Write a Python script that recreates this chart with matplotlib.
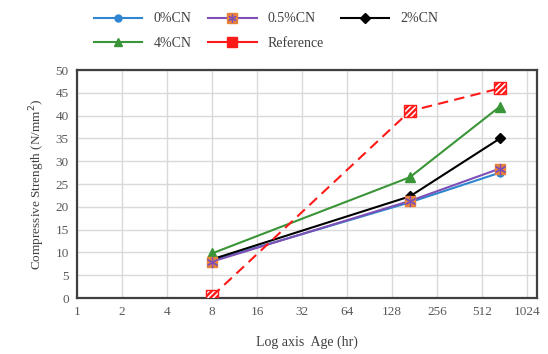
import matplotlib
matplotlib.use("Agg")
import matplotlib.pyplot as plt
from matplotlib.lines import Line2D
from matplotlib.legend_handler import HandlerTuple

plt.rcParams['font.family'] = ['Liberation Serif', 'DejaVu Serif']
plt.rcParams['hatch.linewidth'] = 1.1

# age in hours (8 h, 7 days, 28 days)
ages = [8, 168, 672]
cn_0 = [8.2, 21.0, 27.5]
cn_05 = [8.0, 21.3, 28.4]
cn_2 = [8.5, 22.3, 35.0]
cn_4 = [9.8, 26.5, 42.0]
reference = [0.4, 41.0, 46.0]

xticks = [1, 2, 4, 8, 16, 32, 64, 128, 256, 512, 1024]
yticks = list(range(0, 55, 5))

fig = plt.figure(figsize=(5.48, 3.54), dpi=100)
ax = fig.add_axes([0.1405, 0.158, 0.8395, 0.644])

ax.set_xscale('log', base=2)
ax.set_xlim(1, 1190)
ax.set_ylim(0, 50)

blue = '#2E86D0'
purple = '#7E4FB5'
orange = '#E8823A'
green = '#3A9438'
red = '#FF1A1A'

ax.plot(ages, cn_0, color=blue, lw=1.5, marker='o', ms=5, mfc=blue, mec=blue, zorder=3)
ax.plot(ages, cn_05, color=purple, lw=1.5, zorder=3)
ax.scatter(ages, cn_05, marker='s', s=60, color=orange, zorder=4)
ax.scatter(ages, cn_05, marker=(6, 2, 0), s=55, color=purple, linewidths=0.9, zorder=5)
ax.plot(ages, cn_2, color='black', lw=1.5, marker='D', ms=5.5, mfc='black', mec='black', zorder=3)
ax.plot(ages, cn_4, color=green, lw=1.5, marker='^', ms=7, mfc=green, mec=green, zorder=3)
ax.plot(ages, reference, color=red, lw=1.5, dashes=(5, 3), zorder=3)
ax.scatter(ages, reference, marker='s', s=75, facecolor=red, edgecolor='white',
           hatch='//////', linewidths=0, zorder=6)
ax.scatter(ages, reference, marker='s', s=75, facecolor='none', edgecolor=red,
           linewidths=1.0, zorder=7)

ax.set_xticks(xticks)
ax.set_xticklabels([str(t) for t in xticks])
ax.minorticks_off()
ax.set_yticks(yticks)
ax.grid(True, color='#d9d9d9', lw=1.0)
ax.set_axisbelow(True)
ax.tick_params(length=0, labelsize=9.5, colors='#595959', pad=6)
for s in ax.spines.values():
    s.set_color('#404040')
    s.set_linewidth(1.6)

ax.set_xlabel('Log axis  Age (hr)', fontsize=10, color='#404040', labelpad=12)
ax.set_ylabel('Compressive Strength (N/mm$^2$)', fontsize=9.5, color='#404040', labelpad=6)

h0 = Line2D([], [], color=blue, lw=1.5, marker='o', ms=5)
h05 = (Line2D([], [], color=purple, lw=1.5, marker='s', ms=6.5, mfc=orange, mec=orange),
       Line2D([], [], ls='none', marker=(6, 2, 0), ms=6, mec=purple, mew=0.9))
h2 = Line2D([], [], color='black', lw=1.5, marker='D', ms=5)
h4 = Line2D([], [], color=green, lw=1.5, marker='^', ms=6)
href = Line2D([], [], color=red, lw=1.5, marker='s', ms=6.5, mfc=red, mec=red)
fig.legend([h0, h4, h05, href, h2], ['0%CN', '4%CN', '0.5%CN', 'Reference', '2%CN'],
           handler_map={tuple: HandlerTuple(ndivide=1, pad=0)},
           ncol=3, loc='upper left', bbox_to_anchor=(0.148, 1.0), frameon=False,
           fontsize=10, handlelength=3.5, columnspacing=1.2, labelspacing=0.85,
           labelcolor='#404040')

fig.savefig('out.png', dpi=100)
